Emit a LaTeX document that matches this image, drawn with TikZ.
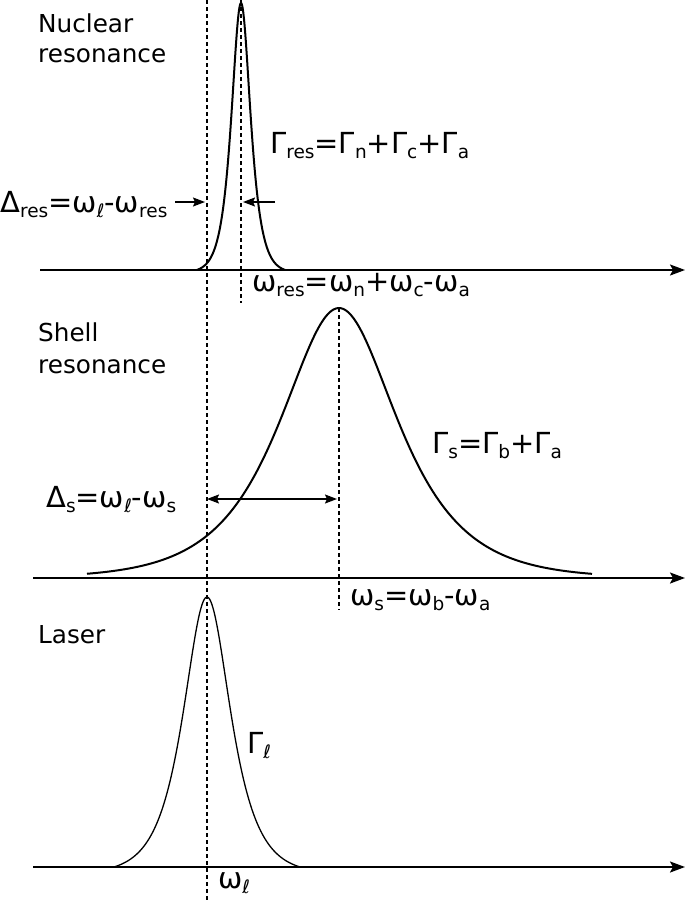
\documentclass[tikz,border=0pt]{standalone}
\usepackage{fontspec}
\setmainfont{DejaVu Sans}
\usetikzlibrary{arrows.meta}
\newcommand{\sbs}[1]{\raisebox{-5.5bp}{\fontsize{18.5bp}{18bp}\selectfont #1}}
\tikzset{
 axisline/.style={line width=2bp, -{Stealth[length=15bp,width=11bp,inset=3bp]}},
 curve/.style={line width=2bp},
 thincurve/.style={line width=1.3bp},
 guide/.style={line width=1.6bp, dash pattern=on 4bp off 3bp},
 lbl/.style={inner sep=0, anchor=base west, font=\fontsize{24.7bp}{30bp}\selectfont},
 eq/.style={inner sep=0, anchor=base west, font=\fontsize{29bp}{30bp}\selectfont},
 darrow/.style={line width=1.5bp, -{Stealth[length=12bp,width=9bp,inset=2bp]}},
 ddarrow/.style={line width=1.5bp, {Stealth[length=12bp,width=9bp,inset=2bp]}-{Stealth[length=12bp,width=9bp,inset=2bp]}},
}
\begin{document}
\begin{tikzpicture}[x=1bp,y=-1bp]
\useasboundingbox (0,0) rectangle (685,900);

% coordinates
\coordinate (a1s) at (40,270);  \coordinate (a1e) at (685,270);
\coordinate (a2s) at (33,578);  \coordinate (a2e) at (685,578);
\coordinate (a3s) at (33,867);  \coordinate (a3e) at (685,867);
\coordinate (d1t) at (207,0);   \coordinate (d1b) at (207,900);
\coordinate (d2t) at (241,0);   \coordinate (d2b) at (241,303);
\coordinate (d3t) at (339,308); \coordinate (d3b) at (339,610);
\coordinate (n1s) at (175,202); \coordinate (n1e) at (205,202);
\coordinate (n2s) at (275,202); \coordinate (n2e) at (243,202);
\coordinate (s1) at (207,499);  \coordinate (s2) at (337,499);

% dashed guides
\draw[guide] (d1t) -- (d1b);
\draw[guide] (d2t) -- (d2b);
\draw[guide] (d3t) -- (d3b);

% axes
\draw[axisline] (a1s) -- (a1e);
\draw[axisline] (a2s) -- (a2e);
\draw[axisline] (a3s) -- (a3e);

% nuclear resonance peak
\draw[curve] plot[domain=197:285, samples=180, smooth] (\x, {270 - 267*(1/cosh((\x-241)/8.5) - 0.011)/0.989});
% shell resonance peak
\draw[curve] plot[domain=87:592, samples=200, smooth] (\x, {578 - 270/cosh((\x-339)/52)});
% laser peak
\draw[thincurve] plot[domain=114:300, samples=180, smooth] (\x, {867 - 270*(1/cosh((\x-207)/21) - 0.0238)/0.9762});

% detuning arrows
\draw[darrow] (n1s) -- (n1e);
\draw[darrow] (n2s) -- (n2e);
\draw[ddarrow] (s1) -- (s2);

% labels
\node[lbl] (nuc1) at (38,32) {Nuclear};
\node[lbl] (nuc2) at (38,62) {resonance};
\node[lbl] (sh1) at (38,341) {Shell};
\node[lbl] (sh2) at (38,373) {resonance};
\node[lbl] (las) at (38,643) {Laser};

\node[eq] (gres) at (270,153) {Γ\sbs{res}=Γ\sbs{n}+Γ\sbs{c}+Γ\sbs{a}};
\node[eq] (dres) at (0,212) {Δ\sbs{res}=ω\sbs{ℓ}-ω\sbs{res}};
\node[eq] (wres) at (252,291) {ω\sbs{res}=ω\sbs{n}+ω\sbs{c}-ω\sbs{a}};
\node[eq] (gs) at (432,453) {Γ\sbs{s}=Γ\sbs{b}+Γ\sbs{a}};
\node[eq] (ds) at (46,507) {Δ\sbs{s}=ω\sbs{ℓ}-ω\sbs{s}};
\node[eq] (ws) at (350,605) {ω\sbs{s}=ω\sbs{b}-ω\sbs{a}};
\node[eq] (gl) at (247,753) {Γ\sbs{ℓ}};
\node[eq] (wl) at (218,888) {ω\sbs{ℓ}};
\end{tikzpicture}
\end{document}
